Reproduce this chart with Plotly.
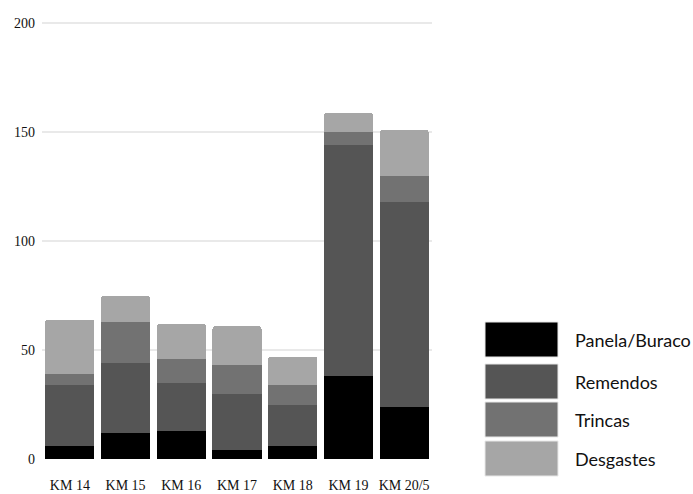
import plotly.graph_objects as go

categories = ["KM 14", "KM 15", "KM 16", "KM 17", "KM 18", "KM 19", "KM 20/5"]
series_names = ["Panela/Buraco", "Remendos", "Trincas", "Desgastes"]
panela = [6, 12, 13, 4, 6, 38, 24]
remendos = [28, 32, 22, 26, 19, 106, 94]
trincas = [5, 19, 11, 13, 9, 6, 12]
desgastes = [25, 12, 16, 18, 13, 9, 21]
colors = ["#000000", "#555555", "#727272", "#a6a6a6"]
y_ticks = [0, 50, 100, 150, 200]

fig = go.Figure()
for name, vals, col in zip(series_names, [panela, remendos, trincas, desgastes], colors):
    fig.add_trace(go.Bar(x=categories, y=vals, name=name, marker_color=col,
                         marker_line_width=0, showlegend=False))

# custom legend (large swatches)
box_tops = [322, 364, 402, 441]
box_h = 35
plot_bottom_px = 459
plot_top_px = 21
plot_h = plot_bottom_px - plot_top_px
plot_left = 42
plot_w = 390
for name, col, top in zip(series_names, colors, box_tops):
    y1 = (plot_bottom_px - top) / plot_h
    y0 = (plot_bottom_px - top - box_h) / plot_h
    x0 = (485 - plot_left) / plot_w
    x1 = (558 - plot_left) / plot_w
    fig.add_shape(type="rect", xref="paper", yref="paper", x0=x0, x1=x1, y0=y0, y1=y1,
                  fillcolor=col, line=dict(color="#e8e8e8", width=1))
    fig.add_annotation(xref="paper", yref="paper", x=(573 - plot_left) / plot_w,
                       y=(y0 + y1) / 2, text=name, showarrow=False, xanchor="left",
                       yanchor="middle", font=dict(family="Lato", size=18, color="#111111"))

fig.update_layout(
    barmode="stack", bargap=0.12, barcornerradius=3,
    width=693, height=494,
    margin=dict(l=plot_left, r=693 - plot_left - plot_w, t=plot_top_px, b=494 - plot_bottom_px),
    plot_bgcolor="white", paper_bgcolor="white",
    font=dict(family="Liberation Serif", size=14, color="#111111"),
)
fig.update_yaxes(range=[0, 201], tickvals=y_ticks, showgrid=True, gridcolor="#e9e9e9",
                 gridwidth=1.5, zeroline=False, showline=False, ticks="", automargin=False,
                 ticklabelstandoff=6, tickfont=dict(family="Liberation Serif", size=14, color="#111111"))
fig.update_xaxes(showline=False, ticks="", ticklabelstandoff=16, automargin=False,
                 tickfont=dict(family="Liberation Serif", size=14, color="#111111"))

fig.write_html("out.html")
